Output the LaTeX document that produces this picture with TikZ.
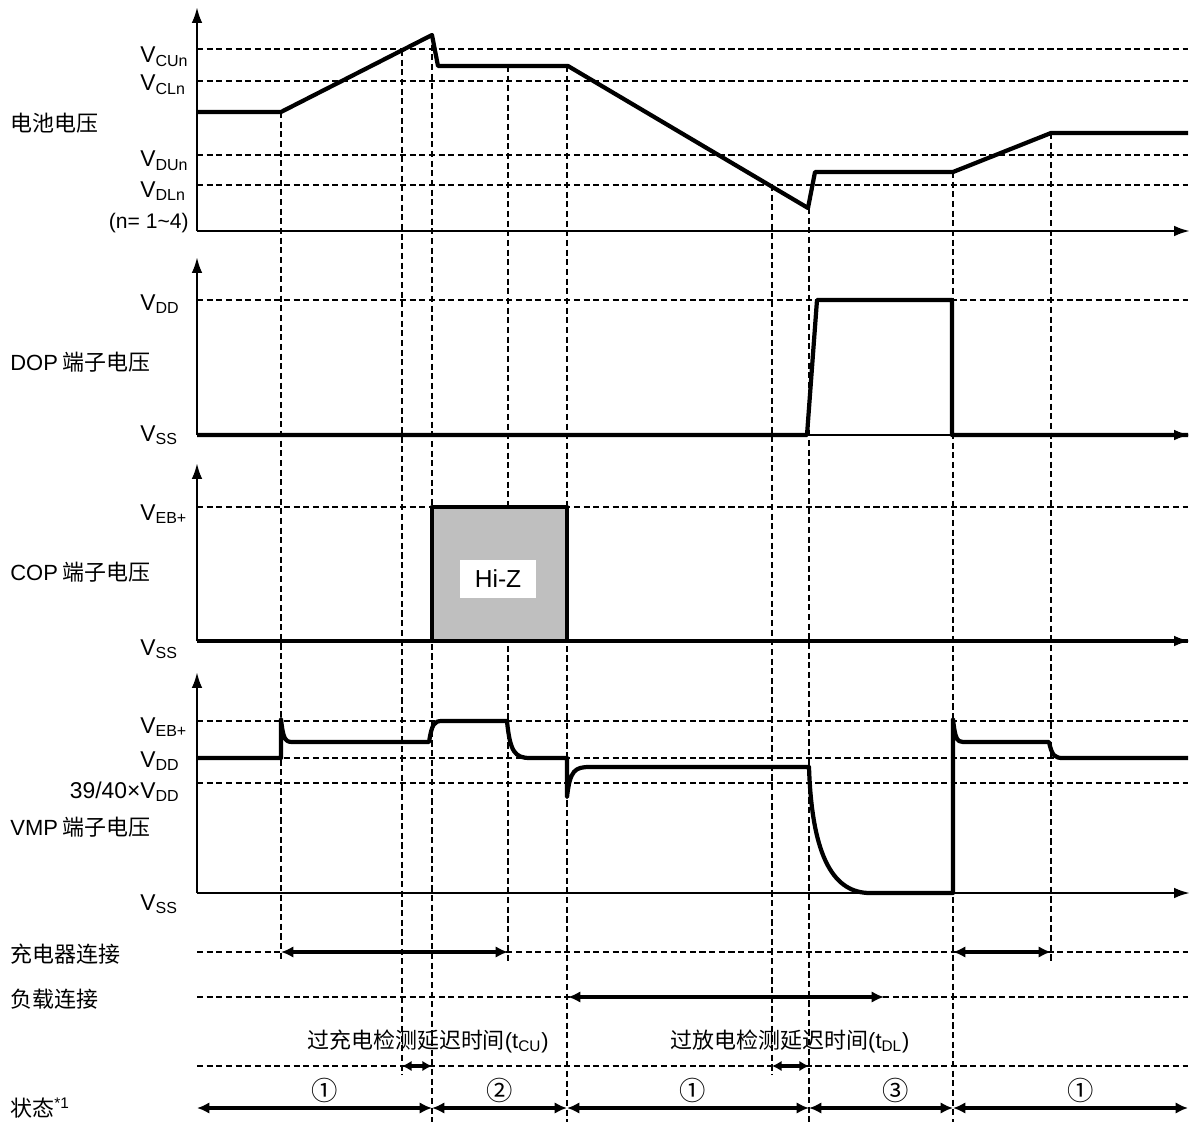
\documentclass[tikz,border=0pt]{standalone}
\usepackage{fontspec}
\setmainfont{Liberation Sans}
\newfontfamily\cjk{Noto Sans CJK SC}
\usetikzlibrary{arrows.meta}

\tikzset{
  ax/.style={line width=1.4pt, -{Latex[length=9pt,width=6pt]}},
  guide/.style={line width=1.1pt, dash pattern=on 3.5pt off 2pt},
  sig/.style={line width=2.4pt, line join=round},
  span/.style={line width=2.2pt, {Latex[length=7pt,width=6.5pt]}-{Latex[length=7pt,width=6.5pt]}},
  lvl/.style={anchor=base west, inner sep=0pt, font=\fontsize{13}{15}\selectfont},
  lname/.style={anchor=west, inner sep=0pt, font=\cjk\fontsize{12.5}{14}\selectfont}
}

\begin{document}
\begin{tikzpicture}[x=0.02cm, y=-0.02cm]
\useasboundingbox (0,0) rectangle (1191,1122);

% guides
\foreach \y in {49,81,155,185,300,507,721,758,783,952,997,1066}
  \draw[guide] (197,\y) -- (1188,\y);
\draw[guide] (281,112) -- (281,962);
\draw[guide] (402,50) -- (402,1075);
\draw[guide] (432,35) -- (432,1122);
\draw[guide] (508,66) -- (508,962);
\draw[guide] (567,66) -- (567,1122);
\draw[guide] (772,185) -- (772,1075);
\draw[guide] (809,208) -- (809,1122);
\draw[guide] (953,172) -- (953,1122);
\draw[guide] (1051,133) -- (1051,962);

% battery voltage
\draw[ax] (197,231) -- (197,7);
\draw[ax] (197,231) -- (1190,231);
\draw[sig] (197,112) -- (281,112) -- (432,35) -- (438,66) -- (568,66) -- (808,208) -- (815,172) -- (953,172) -- (1051,133) -- (1188,133);
\node[lname] (bat) at (10,123) {电池电压};
\node[lvl] (vcu) at (140,63) {V\textsubscript{CUn}};
\node[lvl] (vcl) at (140,91) {V\textsubscript{CLn}};
\node[lvl] (vdu) at (140,167) {V\textsubscript{DUn}};
\node[lvl] (vdl) at (140,197) {V\textsubscript{DLn}};
\node[lvl, anchor=base east, font=\fontsize{12}{14}\selectfont] (nrange) at (189,229) {(n= 1\textasciitilde 4)};

% DOP
\draw[ax] (197,435) -- (197,257);
\draw[ax] (197,435) -- (1190,435);
\draw[sig] (197,435) -- (807,435) -- (817,300) -- (952,300) -- (952,435) -- (1188,435);
\node[lname] (dop) at (10,362) {{\fontspec{Liberation Sans}DOP} 端子电压};
\node[lvl] (dopdd) at (140,310) {V\textsubscript{DD}};
\node[lvl] (dopss) at (140,441) {V\textsubscript{SS}};

% COP
\draw[ax] (197,641) -- (197,463);
\draw[ax] (197,641) -- (1190,641);
\filldraw[sig, fill=black!25] (432,641) rectangle (567,507);
\draw[sig] (197,641) -- (1188,641);
\node[fill=white, minimum width=43pt, minimum height=21.5pt, font=\fontsize{14}{16}\selectfont] (hiz) at (498,579) {Hi-Z};
\node[lname] (cop) at (10,572) {{\fontspec{Liberation Sans}COP} 端子电压};
\node[lvl] (copeb) at (140,520) {V\textsubscript{EB+}};
\node[lvl] (copss) at (140,655) {V\textsubscript{SS}};

% VMP
\draw[ax] (197,893) -- (197,672);
\draw[ax] (197,893) -- (1190,893);
\draw[sig] (197,758) -- (281,758) -- (281,719) .. controls (283,738) and (285,742) .. (292,742) -- (429,742)
  .. controls (432,724) and (434,721) .. (442,721) -- (507,721) .. controls (510,752) and (515,758) .. (530,758)
  -- (567,758) -- (567,797) .. controls (570,770) and (575,767) .. (590,767) -- (809,767)
  .. controls (812,860) and (835,893) .. (870,893) -- (953,893) -- (953,719)
  .. controls (955,738) and (957,742) .. (963,742) -- (1049,742) .. controls (1052,756) and (1055,758) .. (1063,758) -- (1188,758);
\node[lname] (vmp) at (10,827) {{\fontspec{Liberation Sans}VMP} 端子电压};
\node[lvl] (vmpeb) at (140,733) {V\textsubscript{EB+}};
\node[lvl] (vmpdd) at (140,767) {V\textsubscript{DD}};
\node[lvl, anchor=base east] (vmpdet) at (180,798) {39/40×V\textsubscript{DD}};
\node[lvl] (vmpss) at (140,910) {V\textsubscript{SS}};

% rows
\node[lname] (chg) at (10,954) {充电器连接};
\node[lname] (load) at (10,999) {负载连接};
\node[lname] (state) at (10,1108) {状态\textsuperscript{{\fontspec{Liberation Sans}*1}}};
\draw[span] (281,952) -- (508,952);
\draw[span] (953,952) -- (1051,952);
\draw[span] (568,997) -- (884,997);
\draw[span, {Latex[length=5.5pt,width=6pt]}-{Latex[length=5.5pt,width=6pt]}] (402,1066) -- (432,1066);
\draw[span, {Latex[length=5.5pt,width=6pt]}-{Latex[length=5.5pt,width=6pt]}] (772,1066) -- (809,1066);
\node[lname, anchor=center] (tcu) at (428,1041) {过充电检测延迟时间{\fontspec{Liberation Sans}(t\textsubscript{CU})}};
\node[lname, anchor=center] (tdl) at (790,1041) {过放电检测延迟时间{\fontspec{Liberation Sans}(t\textsubscript{DL})}};
\draw[span] (197,1108) -- (432,1108);
\draw[span] (432,1108) -- (567,1108);
\draw[span] (567,1108) -- (809,1108);
\draw[span] (809,1108) -- (953,1108);
\draw[span] (953,1108) -- (1188,1108);
\tikzset{lname/.append style={font=\cjk\fontsize{15}{16}\selectfont}}
\node[lname, anchor=center] (s1) at (325,1090) {①};
\node[lname, anchor=center] (s2) at (500,1090) {②};
\node[lname, anchor=center] (s3) at (693,1090) {①};
\node[lname, anchor=center] (s4) at (896,1090) {③};
\node[lname, anchor=center] (s5) at (1081,1090) {①};
\end{tikzpicture}
\end{document}
